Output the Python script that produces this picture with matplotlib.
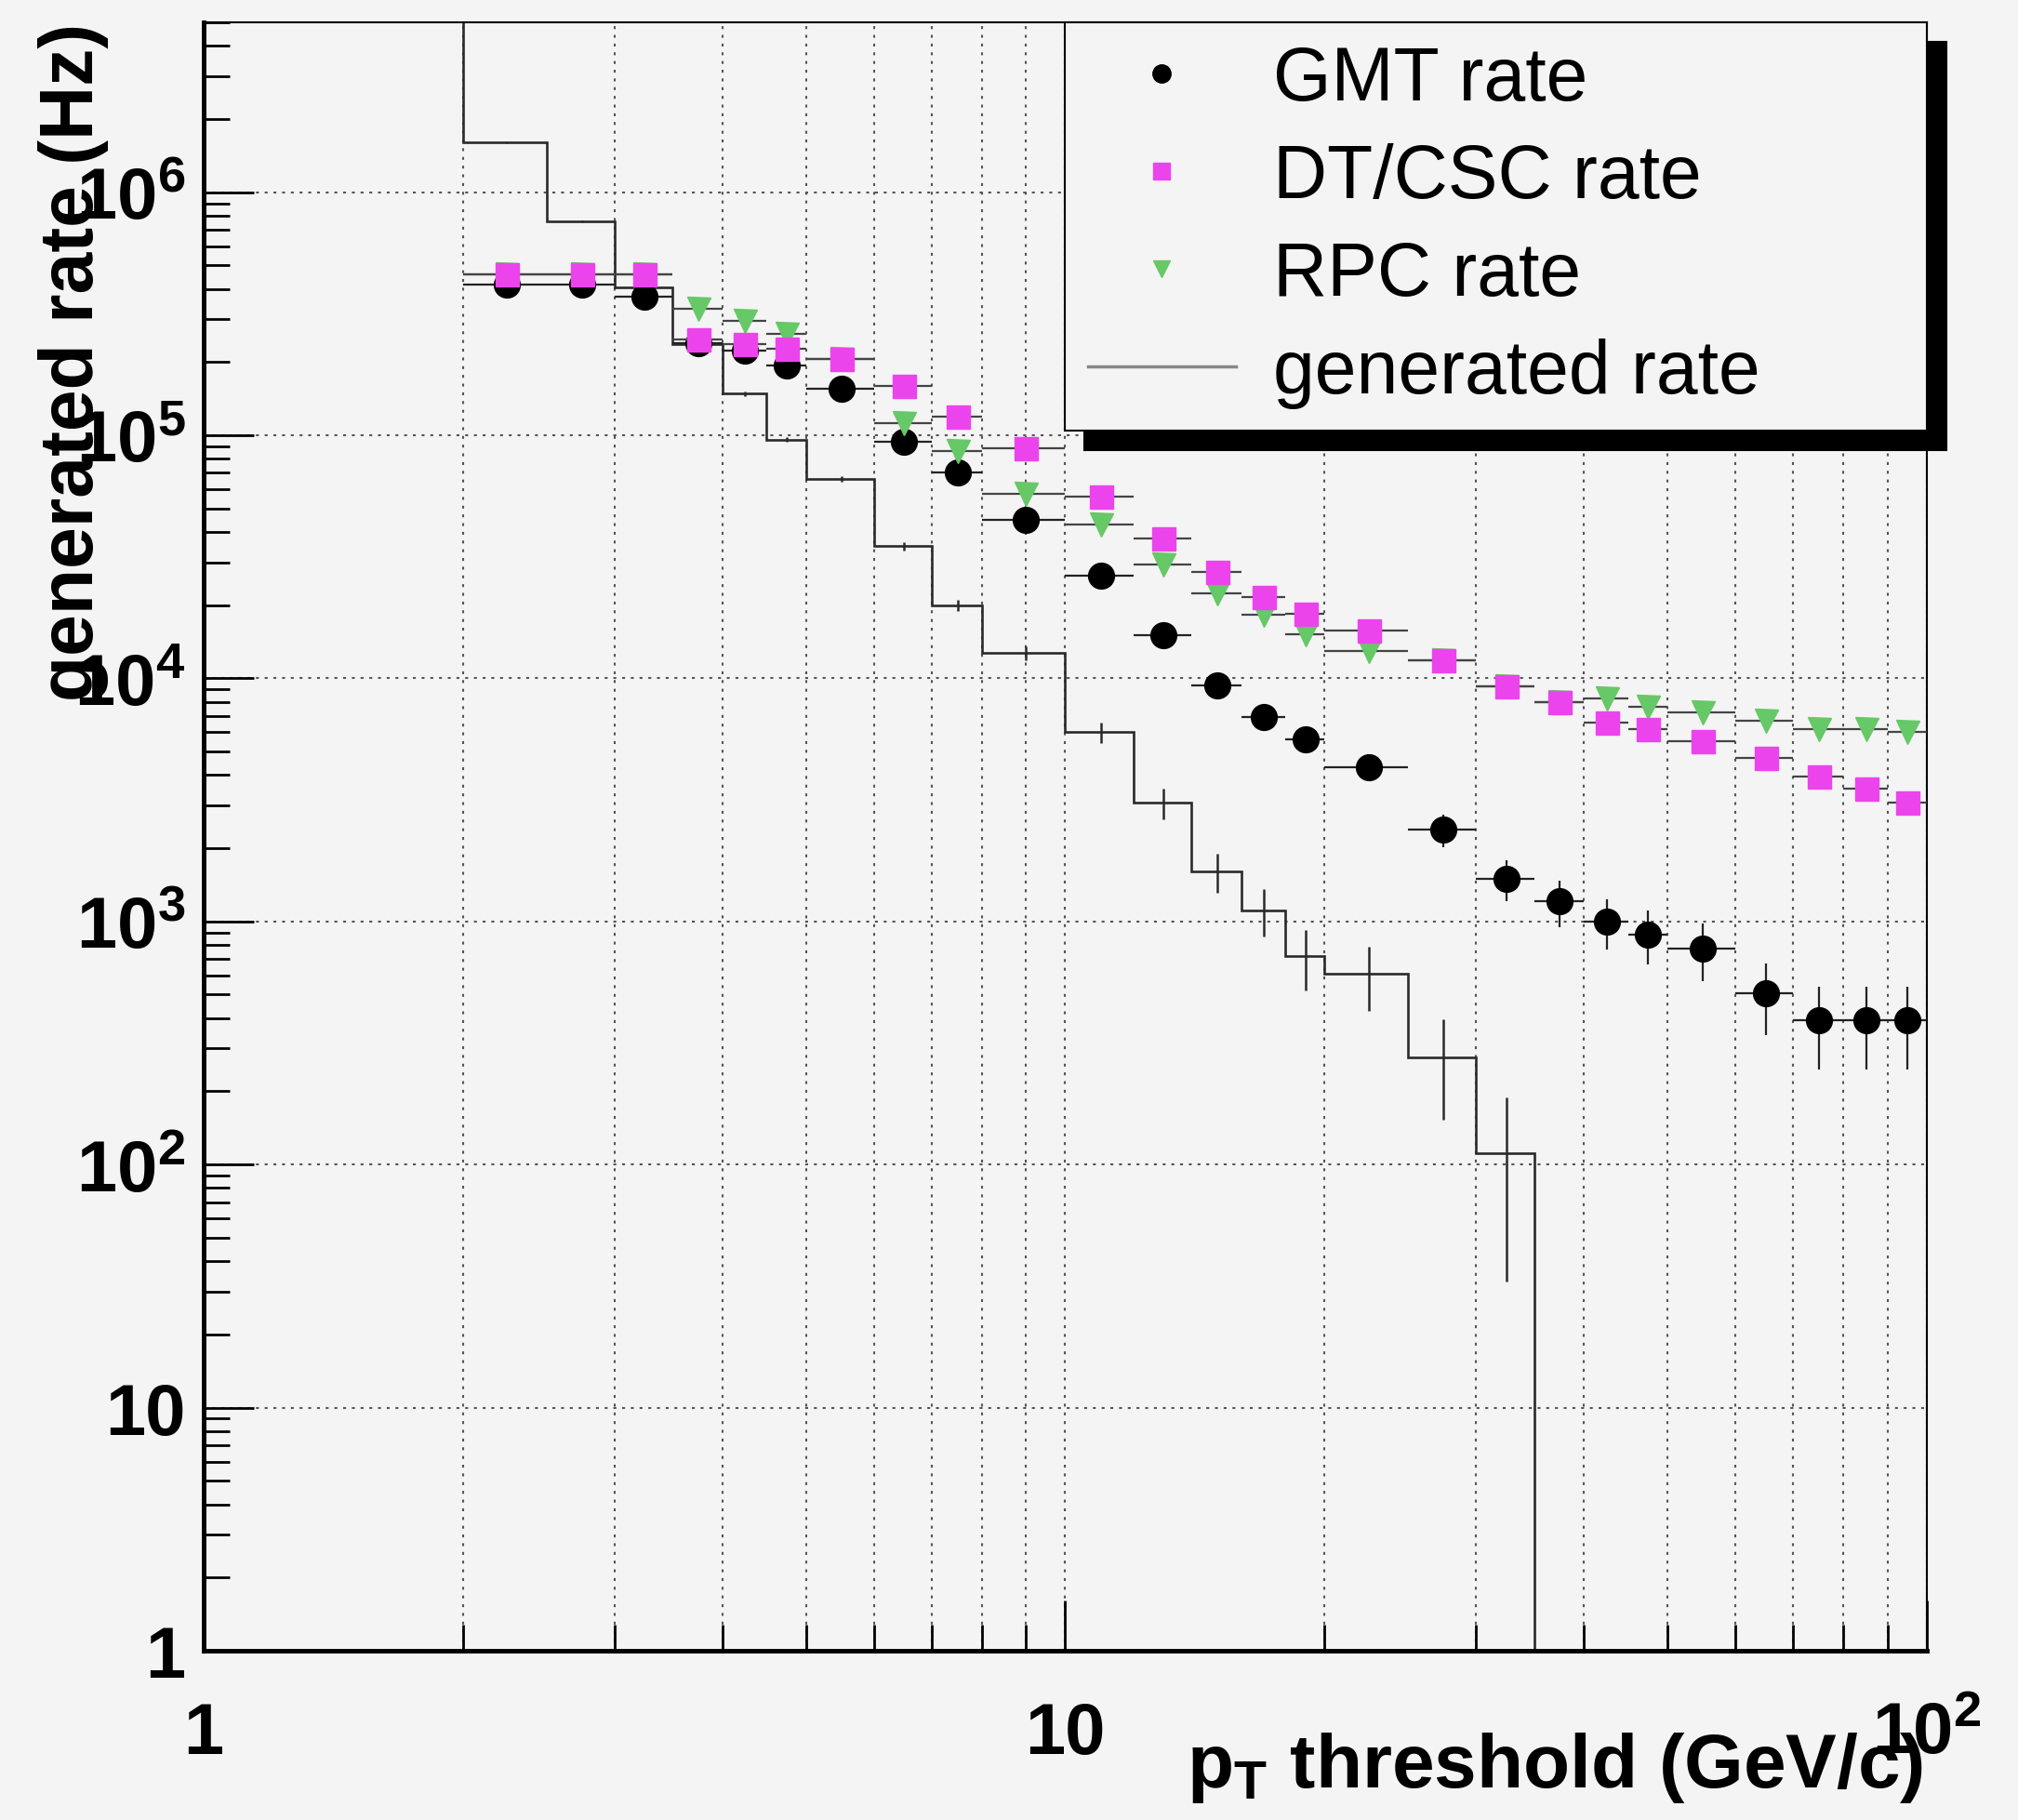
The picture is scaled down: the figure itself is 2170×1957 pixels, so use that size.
import numpy as np
import matplotlib
matplotlib.use("Agg")
import matplotlib.pyplot as plt
from matplotlib.ticker import LogLocator, NullFormatter
from matplotlib.lines import Line2D

plt.rcParams['font.family'] = ['Liberation Sans', 'DejaVu Sans']
plt.rcParams['mathtext.fontset'] = 'custom'
plt.rcParams['mathtext.rm'] = 'Liberation Sans'
plt.rcParams['mathtext.it'] = 'Liberation Sans:italic'
plt.rcParams['mathtext.bf'] = 'Liberation Sans:bold'

# pT threshold bins (GeV/c)
pt_edges = [2, 2.5, 3, 3.5, 4, 4.5, 5, 6, 7, 8, 10, 12, 14, 16, 18, 20,
            25, 30, 35, 40, 45, 50, 60, 70, 80, 90, 100]

# rates in Hz, one value per bin
gmt_rate = [4.15e5, 4.15e5, 3.72e5, 2.4e5, 2.22e5, 1.94e5, 1.55e5, 9.4e4, 7.0e4,
            4.47e4, 2.65e4, 1.5e4, 9.35e3, 6.9e3, 5.6e3, 4.3e3, 2.38e3, 1.5e3,
            1.21e3, 1.0e3, 885, 775, 505, 392, 392, 392]
gmt_err = [4800, 4800, 4500, 3600, 3500, 3300, 2900, 2300, 1950, 1550, 1200, 910,
           720, 620, 550, 490, 360, 290, 260, 235, 220, 205, 165, 147, 147, 147]
dtcsc_rate = [4.6e5, 4.6e5, 4.6e5, 2.47e5, 2.38e5, 2.27e5, 2.06e5, 1.6e5, 1.19e5,
              8.8e4, 5.58e4, 3.76e4, 2.75e4, 2.15e4, 1.85e4, 1.57e4, 1.19e4, 9.27e3,
              8.0e3, 6.6e3, 6.18e3, 5.5e3, 4.72e3, 3.95e3, 3.53e3, 3.07e3]
rpc_rate = [4.6e5, 4.6e5, 4.6e5, 3.32e5, 2.95e5, 2.6e5, 2.06e5, 1.12e5, 8.6e4,
            5.75e4, 4.3e4, 2.94e4, 2.24e4, 1.83e4, 1.52e4, 1.29e4, 1.19e4, 9.27e3,
            8.0e3, 8.24e3, 7.64e3, 7.21e3, 6.68e3, 6.18e3, 6.18e3, 6.02e3]

# generated rate histogram (first bin is off scale, empty above 35 GeV/c)
gen_edges = [1.5] + pt_edges
gen_rate = [8e6, 1.6e6, 7.6e5, 4.07e5, 2.37e5, 1.48e5, 9.6e4, 6.6e4, 3.5e4, 2.0e4,
            1.27e4, 6.0e3, 3.08e3, 1.6e3, 1.11e3, 720, 607, 275, 111,
            0, 0, 0, 0, 0, 0, 0, 0]
gen_err = [0, 9400, 6500, 4700, 3600, 2850, 2300, 1900, 1400, 1050, 840, 570, 450,
           290, 245, 200, 180, 122, 78, 0, 0, 0, 0, 0, 0, 0, 0]

labels = ['GMT rate', 'DT/CSC rate', 'RPC rate', 'generated rate']

bg = '#f4f4f4'
magenta = '#ec44ec'
green = '#66c866'
gencol = '#2a2a2a'

fig = plt.figure(figsize=(21.7, 19.58), dpi=100, facecolor=bg)
ax = fig.add_axes([0.1009, 0.0930, 0.8539, 0.8943], facecolor=bg)
ax.set_xscale('log')
ax.set_yscale('log')

lo = np.array(pt_edges[:-1])
hi = np.array(pt_edges[1:])
centers = (lo + hi) / 2
half = (hi - lo) / 2

ge = np.array(gen_edges)
gc = (ge[:-1] + ge[1:]) / 2
gr = np.array(gen_rate)
gerr = np.array(gen_err)
m = gerr > 0

ax.stairs(gr, ge, baseline=None, color=gencol, lw=1.9, zorder=2)
ax.errorbar(gc[m], gr[m], yerr=gerr[m], fmt='none', ecolor=gencol, elinewidth=1.8, zorder=2)

ax.errorbar(centers, gmt_rate, xerr=half, yerr=gmt_err, fmt='o', ms=20, color='k',
            mec='k', ecolor='#222222', elinewidth=1.6, capsize=0, zorder=3)
ax.errorbar(centers, rpc_rate, xerr=half, fmt='v', ms=18, color=green, mec=green,
            ecolor='#444444', elinewidth=1.6, capsize=0, zorder=4)
ax.errorbar(centers, dtcsc_rate, xerr=half, fmt='s', ms=18, color=magenta, mec=magenta,
            ecolor='#444444', elinewidth=1.6, capsize=0, zorder=5)

ax.set_xlim(1, 100)
ax.set_ylim(1, 5e6)

ax.set_xticks([1, 10, 100], ['1', '10', r'$\mathbf{10^{2}}$'], fontsize=56, fontweight='bold')
ax.set_yticks([1, 10, 1e2, 1e3, 1e4, 1e5, 1e6],
              ['1', '10'] + [r'$\mathbf{10^{%d}}$' % k for k in range(2, 7)],
              fontsize=56, fontweight='bold')
for axis in (ax.xaxis, ax.yaxis):
    axis.set_minor_locator(LogLocator(base=10, subs=np.arange(2, 10), numticks=50))
    axis.set_minor_formatter(NullFormatter())

ax.tick_params(which='both', direction='in', top=False, right=False, width=2, colors='k')
ax.tick_params(which='major', length=39)
ax.tick_params(which='minor', length=20)
ax.tick_params(axis='x', which='major', pad=38)
ax.tick_params(axis='y', which='major', pad=14)

ax.set_axisbelow(True)
gstyle = dict(color='#555555', linestyle=(0, (1.5, 3)), linewidth=1.5)
ax.grid(True, which='both', axis='x', **gstyle)
ax.grid(True, which='major', axis='y', **gstyle)

ax.spines['left'].set_linewidth(3.5)
ax.spines['bottom'].set_linewidth(3.5)
ax.spines['top'].set_linewidth(1.5)
ax.spines['right'].set_linewidth(1.5)

handles = [Line2D([], [], ls='none', marker='o', ms=14, color='k'),
           Line2D([], [], ls='none', marker='s', ms=13, color=magenta),
           Line2D([], [], ls='none', marker='v', ms=13, color=green),
           Line2D([], [], color='#888888', lw=2.5)]
leg = ax.legend(handles, labels, loc='upper left', bbox_to_anchor=(0.5, 0, 0.5, 1),
                mode='expand', borderaxespad=0, fontsize=58, fancybox=False,
                edgecolor='k', facecolor=bg, framealpha=1, borderpad=0.3,
                labelspacing=0.36, handlelength=1.98, handletextpad=0.5,
                shadow={'ox': 15, 'oy': -15, 'color': 'k', 'alpha': 1})
leg.get_frame().set_linewidth(1.5)

ax.text(-0.0755, 1.0, 'generated rate (Hz)', transform=ax.transAxes, rotation=90,
        ha='center', va='top', fontsize=58, fontweight='bold')
ax.text(0.9978, -0.0834, r'$\mathbf{p}_{\mathbf{T}}$ threshold (GeV/c)', transform=ax.transAxes,
        ha='right', va='baseline', fontsize=59, fontweight='bold')

fig.savefig('out.png', dpi=100, facecolor=bg)
